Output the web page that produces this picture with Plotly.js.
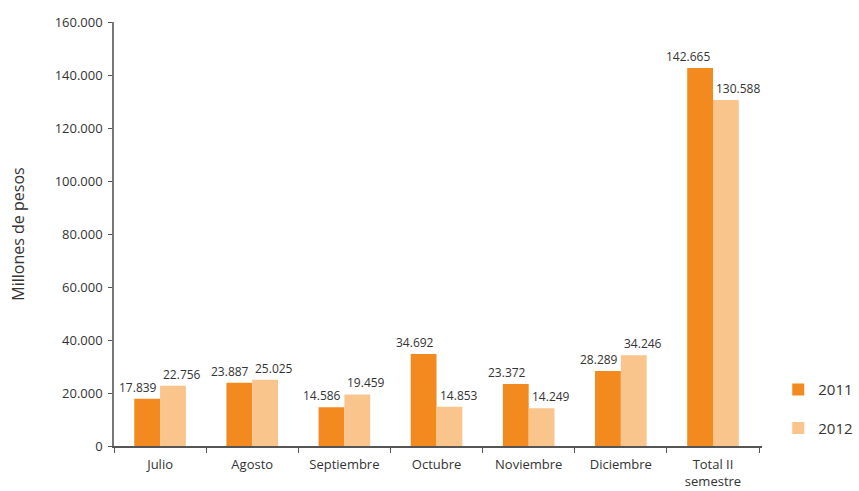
<!DOCTYPE html>
<html><head><meta charset="utf-8">
<script src="https://cdn.plot.ly/plotly-3.0.1.min.js"></script>
<style>html,body{margin:0;padding:0;background:#fff}#chart{width:859px;height:491px}</style>
</head><body><div id="chart"></div>
<script>
const categories = ["Julio","Agosto","Septiembre","Octubre","Noviembre","Diciembre","Total II<br>semestre"];
const values2011 = [17839, 23887, 14586, 34692, 23372, 28289, 142665];
const values2012 = [22756, 25025, 19459, 14853, 14249, 34246, 130588];
const seriesNames = ["2011","2012"];
const yTicks = [0,20000,40000,60000,80000,100000,120000,140000,160000];

const fontFam = "'Open Sans', 'DejaVu Sans', sans-serif";
const fmt = v => v.toLocaleString("de-DE");
const traces = [
  {type:"bar", name:seriesNames[0], x:categories, y:values2011, legendgroup:"a",
   marker:{color:"#F28A1F"}},
  {type:"bar", name:seriesNames[1], x:categories, y:values2012, legendgroup:"b",
   marker:{color:"#F9C58D"}}
];
const annotations = [];
categories.forEach((c,i)=>{
  annotations.push({x:c, y:values2011[i], text:fmt(values2011[i]), showarrow:false,
    xanchor:"right", yanchor:"bottom", xshift:-1, yshift:1, font:{size:12,color:"#333"}});
  annotations.push({x:c, y:values2012[i], text:fmt(values2012[i]), showarrow:false,
    xanchor:"left", yanchor:"bottom", xshift:1, yshift:1, font:{size:12,color:"#333"}});
});
const layout = {
  width:859, height:491,
  margin:{l:114, r:97, t:22, b:45},
  paper_bgcolor:"#fff", plot_bgcolor:"#fff",
  separators:",.",
  font:{family:fontFam, size:13, color:"#333"},
  bargap:0.44, bargroupgap:0,
  barmode:"group",
  showlegend:true,
  annotations:annotations,
  legend:{xref:"container", yref:"container", x:0.906, y:0.24, xanchor:"left", yanchor:"top",
          tracegroupgap:16, font:{size:15,color:"#333"}, traceorder:"grouped"},
  xaxis:{showline:true, linecolor:"#555", linewidth:1.5, ticks:"outside", tickson:"boundaries",
         ticklen:5, tickcolor:"#555", showgrid:false, tickfont:{size:13,color:"#333"},
         ticklabelstandoff:6},
  yaxis:{range:[0,160000], tickvals:yTicks, tickformat:",d", showline:true, linecolor:"#777",
         linewidth:1.5, ticks:"outside", ticklen:4, tickcolor:"#555", showgrid:false, zeroline:false,
         tickfont:{size:13,color:"#333"}, ticklabelstandoff:3,
         title:{text:"Millones de pesos", font:{size:16,color:"#333"}, standoff:26}}
};
Plotly.newPlot("chart", traces, layout, {displayModeBar:false});
</script></body></html>
